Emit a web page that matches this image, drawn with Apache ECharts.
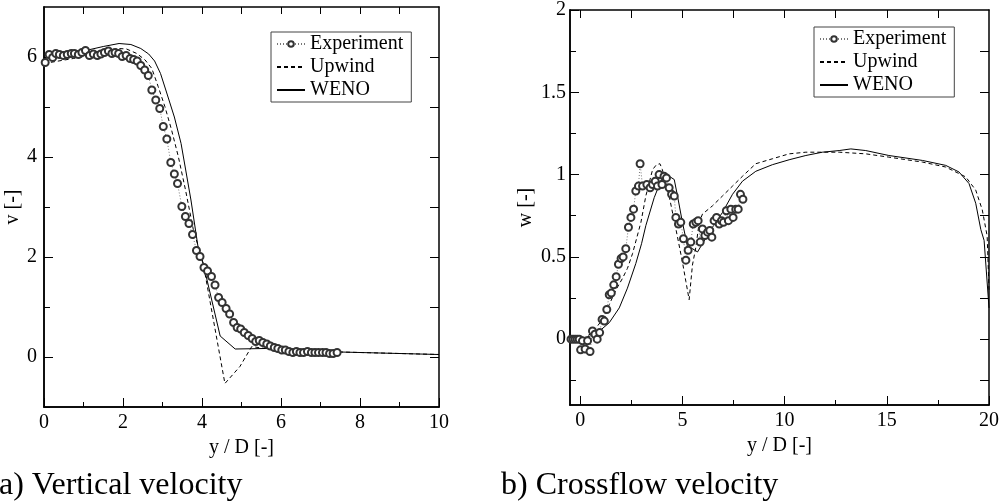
<!DOCTYPE html>
<html>
<head>
<meta charset="utf-8">
<script src="https://cdn.jsdelivr.net/npm/echarts@6/dist/echarts.min.js"></script>
<style>
html,body{margin:0;padding:0;background:#fff;}
#c{width:1002px;height:503px;}
</style>
</head>
<body>
<div id="c"></div>
<script>
// ---------- Data: (a) vertical velocity ----------
const vExperiment = [
[0.03,5.89],[0.13,6.05],[0.22,5.99],[0.30,6.07],[0.39,6.05],[0.49,6.03],[0.59,6.05],[0.69,6.07],[0.77,6.07],[0.87,6.05],
[0.96,6.09],[1.05,6.13],[1.15,6.03],[1.25,6.06],[1.35,6.03],[1.44,6.06],[1.53,6.09],[1.63,6.12],[1.72,6.07],[1.80,6.09],
[1.89,6.07],[1.98,6.01],[2.08,6.03],[2.18,5.97],[2.27,5.95],[2.36,5.92],[2.45,5.83],[2.55,5.74],[2.64,5.63],[2.73,5.34],
[2.83,5.14],[2.93,4.97],[3.02,4.61],[3.11,4.36],[3.21,3.89],[3.30,3.66],[3.38,3.47],[3.49,3.01],[3.58,2.81],[3.67,2.67],
[3.76,2.45],[3.86,2.13],[3.95,2.01],[4.05,1.79],[4.14,1.72],[4.24,1.61],[4.33,1.44],[4.42,1.19],[4.51,1.09],[4.61,0.97],
[4.70,0.86],[4.80,0.69],[4.89,0.59],[4.98,0.56],[5.07,0.49],[5.17,0.43],[5.27,0.37],[5.36,0.31],[5.45,0.33],[5.54,0.29],
[5.64,0.26],[5.73,0.22],[5.83,0.19],[5.92,0.17],[6.02,0.14],[6.11,0.14],[6.20,0.11],[6.30,0.09],[6.39,0.11],[6.48,0.09],
[6.57,0.09],[6.67,0.11],[6.77,0.09],[6.86,0.09],[6.95,0.09],[7.05,0.09],[7.14,0.09],[7.23,0.07],[7.32,0.07],[7.42,0.09]
];
const vUpwind = [
[0,5.87],[0.74,5.97],[1.25,6.04],[1.59,6.11],[1.88,6.17],[2.09,6.16],[2.35,6.07],[2.56,5.94],[2.73,5.77],[2.89,5.41],
[3.06,5.01],[3.23,4.54],[3.40,4.01],[3.58,3.35],[3.78,2.55],[4.03,1.87],[4.58,-0.53],[4.96,-0.19],[5.26,0.21],[5.5,0.18],
[6.5,0.13],[7.5,0.10],[10,0.05]
];
const vWeno = [
[0,5.97],[0.5,6.04],[1.0,6.12],[1.5,6.21],[1.9,6.27],[2.2,6.25],[2.45,6.17],[2.65,6.06],[2.8,5.92],[2.95,5.67],
[3.1,5.3],[3.3,4.8],[3.47,4.27],[3.72,3.14],[3.9,2.2],[4.03,1.87],[4.46,0.42],[4.84,0.16],[5.6,0.17],[6.5,0.13],
[7.5,0.10],[10,0.05]
];

// ---------- Data: (b) crossflow velocity ----------
const wExperiment = [
[-0.45,0],[-0.35,0],[-0.25,0],[-0.15,0],[-0.05,0],
[0.02,-0.065],[0.11,-0.01],[0.24,-0.06],[0.36,-0.01],[0.48,-0.075],[0.60,0.05],[0.72,0.03],[0.83,0.0],[0.95,0.04],[1.07,0.12],
[1.18,0.11],[1.30,0.18],[1.42,0.27],[1.52,0.28],[1.64,0.33],[1.76,0.38],[1.87,0.455],[2.00,0.49],[2.10,0.50],[2.23,0.55],
[2.36,0.68],[2.48,0.74],[2.61,0.79],[2.72,0.90],[2.85,0.93],[2.93,1.066],[3.05,0.93],[3.26,0.94],[3.42,0.92],[3.54,0.94],
[3.67,0.96],[3.78,0.93],[3.86,1.0],[4.00,0.94],[4.10,0.99],[4.22,0.98],[4.35,0.92],[4.47,0.88],[4.60,0.87],[4.68,0.74],
[4.81,0.70],[4.92,0.71],[5.05,0.61],[5.17,0.48],[5.28,0.54],[5.41,0.59],[5.53,0.70],[5.66,0.71],[5.77,0.72],[5.87,0.59],
[5.98,0.67],[6.10,0.63],[6.23,0.65],[6.34,0.66],[6.44,0.62],[6.55,0.72],[6.67,0.74],[6.80,0.70],[6.91,0.72],[7.01,0.71],
[7.15,0.78],[7.25,0.72],[7.37,0.79],[7.48,0.74],[7.61,0.79],[7.73,0.79],[7.84,0.88],[7.96,0.85]
];
const wUpwind = [
[0.1,0],[0.6,0.04],[1.09,0.12],[1.42,0.21],[1.75,0.30],[2.07,0.37],[2.31,0.43],[2.56,0.52],[2.97,0.71],[3.21,0.87],
[3.54,1.03],[3.73,1.06],[3.9,1.066],[4.02,1.03],[4.35,0.87],[4.68,0.67],[5.0,0.47],[5.17,0.35],[5.33,0.24],[5.49,0.45],
[5.66,0.56],[5.82,0.71],[5.98,0.76],[6.47,0.81],[6.96,0.87],[7.45,0.93],[7.94,0.99],[8.59,1.066],[9.4,1.096],[10.22,1.126],
[11.04,1.136],[12.67,1.136],[13.97,1.126],[15.1,1.106],[16.74,1.076],[17.88,1.046],[18.86,0.986],[19.35,0.906],[19.67,0.786],
[19.91,0.627],[20,0.30]
];
const wWeno = [
[0,0],[0.5,0.02],[0.93,0.048],[1.42,0.10],[1.91,0.19],[2.31,0.31],[2.72,0.46],[3.0,0.58],[3.21,0.69],[3.62,0.86],
[3.94,0.96],[4.19,1.0],[4.35,0.99],[4.6,0.97],[4.76,0.87],[5.0,0.71],[5.17,0.61],[5.25,0.56],[5.49,0.55],[5.74,0.53],
[5.98,0.58],[6.47,0.68],[6.96,0.77],[7.45,0.88],[7.94,0.96],[8.59,1.02],[9.4,1.06],[10.22,1.09],[11.04,1.116],[11.85,1.136],
[12.67,1.146],[13.24,1.156],[13.97,1.146],[15.1,1.116],[16.74,1.086],[17.88,1.056],[18.53,1.016],[19.02,0.946],[19.35,0.826],
[19.6,0.666],[19.76,0.6],[20,0.19]
];

// ---------- Tick values ----------
const aXLabels = [0,2,4,6,8,10];
const aXMinor = [1,3,5,7,9];
const aXTop = [1,2,3,4,5,6,7,8,9];
const aYLabels = [0,2,4,6];
const aYMinor = [-1,1,3,5];
const aYRight = [0,1,2,3,4,5,6];
const bXLabels = [0,5,10,15,20];
const bXMinor = [2.5,7.5,12.5,17.5];
const bXTop = [0,2.5,5,7.5,10,12.5,15,17.5];
const bYLabels = [0,0.5,1,1.5,2];
const bYMinor = [-0.25,0.25,0.75,1.25,1.75];
const bYRight = [-0.25,0,0.25,0.5,0.75,1,1.25,1.5,1.75];

const seriesNames = ['Experiment','Upwind','WENO'];
const captions = ['a) Vertical velocity','b) Crossflow velocity'];
const axisNames = {ax:'y / D [-]', ay:'v [-]', bx:'y / D [-]', by:'w [-]'};

const FONT = 'Liberation Serif';
const lineCol = '#000';

function mainAxis(o){
  return Object.assign({
    type:'value', splitLine:{show:false},
    axisLine:{show:true,onZero:false,lineStyle:{color:lineCol,width:1.5}},
    axisTick:{show:true,inside:true,length:9,lineStyle:{color:lineCol,width:1}},
    axisLabel:{show:true,color:'#000',fontFamily:FONT,fontSize:20},
    nameTextStyle:{color:'#000',fontFamily:FONT,fontSize:20},
    nameLocation:'middle'
  }, o);
}
function tickAxis(o, len, vals){
  return Object.assign({
    type:'value', splitLine:{show:false},
    axisLine:{show:true,onZero:false,lineStyle:{color:lineCol,width:1.5}},
    axisTick:{show:true,inside:true,length:len,customValues:vals,lineStyle:{color:lineCol,width:1}},
    axisLabel:{show:false}
  }, o);
}

const xAxis = [
  mainAxis({gridIndex:0,position:'bottom',min:0,max:10,name:axisNames.ax,nameGap:20,
    axisTick:{show:true,inside:true,length:9,customValues:aXLabels,lineStyle:{color:lineCol,width:1}},
    axisLabel:{show:true,customValues:aXLabels,margin:6,color:'#000',fontFamily:FONT,fontSize:20}}),
  tickAxis({gridIndex:0,position:'bottom',min:0,max:10},5,aXMinor),
  tickAxis({gridIndex:0,position:'top',min:0,max:10},7,aXTop),
  mainAxis({gridIndex:1,position:'bottom',min:-0.5,max:20,name:axisNames.bx,nameGap:21,
    axisTick:{show:true,inside:true,length:9,customValues:bXLabels,lineStyle:{color:lineCol,width:1}},
    axisLabel:{show:true,customValues:bXLabels,margin:6,color:'#000',fontFamily:FONT,fontSize:20}}),
  tickAxis({gridIndex:1,position:'bottom',min:-0.5,max:20},5,bXMinor),
  tickAxis({gridIndex:1,position:'top',min:-0.5,max:20},8,bXTop)
];
const yAxis = [
  mainAxis({gridIndex:0,position:'left',min:-1,max:7,name:axisNames.ay,nameGap:16,
    axisTick:{show:true,inside:true,length:9,customValues:aYLabels,lineStyle:{color:lineCol,width:1}},
    axisLabel:{show:true,customValues:aYLabels,margin:7,color:'#000',fontFamily:FONT,fontSize:20}}),
  tickAxis({gridIndex:0,position:'left',min:-1,max:7},6,aYMinor),
  tickAxis({gridIndex:0,position:'right',min:-1,max:7},9,aYRight),
  mainAxis({gridIndex:1,position:'left',min:-0.4,max:2,name:axisNames.by,nameGap:34,
    axisTick:{show:true,inside:true,length:9,customValues:bYLabels,lineStyle:{color:lineCol,width:1}},
    axisLabel:{show:true,customValues:bYLabels,margin:4,color:'#000',fontFamily:FONT,fontSize:20}}),
  tickAxis({gridIndex:1,position:'left',min:-0.4,max:2},6,bYMinor),
  tickAxis({gridIndex:1,position:'right',min:-0.4,max:2},9,bYRight)
];

function expSeries(data, xi, yi){
  return {name:seriesNames[0],type:'line',data:data,xAxisIndex:xi,yAxisIndex:yi,
    symbol:'emptyCircle',symbolSize:7,showAllSymbol:true,
    itemStyle:{color:'#333',borderColor:'#333',borderWidth:1},
    lineStyle:{color:'#777',width:1,type:[1,2]},animation:false,z:3};
}
function upSeries(data, xi, yi){
  return {name:seriesNames[1],type:'line',data:data,xAxisIndex:xi,yAxisIndex:yi,
    symbol:'none',lineStyle:{color:'#000',width:1,type:[4,3]},itemStyle:{color:'#000'},animation:false,z:2};
}
function wenoSeries(data, xi, yi){
  return {name:seriesNames[2],type:'line',data:data,xAxisIndex:xi,yAxisIndex:yi,
    symbol:'none',lineStyle:{color:'#000',width:1},itemStyle:{color:'#000'},animation:false,z:2};
}

function legendAt(left, top){
  return {orient:'vertical',left:left,top:top,itemWidth:28,itemHeight:7,itemGap:3,
    padding:[2,8,2,5],borderColor:'#444',borderWidth:1,backgroundColor:'#fff',
    data:[
      {name:seriesNames[0], itemStyle:{borderWidth:1}},
      {name:seriesNames[1], itemStyle:{opacity:0}},
      {name:seriesNames[2], itemStyle:{opacity:0}}
    ],
    selectedMode:false,
    textStyle:{fontFamily:FONT,fontSize:20,color:'#000',lineHeight:20}};
}

const option = {
  animation:false,
  backgroundColor:'#fff',
  title:[
    {text:captions[0],left:-1,top:470,padding:0,textStyle:{fontFamily:FONT,fontSize:32,fontWeight:'normal',color:'#000'}},
    {text:captions[1],left:501,top:470,padding:0,textStyle:{fontFamily:FONT,fontSize:32,fontWeight:'normal',color:'#000'}}
  ],
  legend:[legendAt(271,32), legendAt(814,27)],
  grid:[
    {left:44,top:7,width:395,height:400},
    {left:570,top:4,width:420,height:401}
  ],
  xAxis:xAxis,
  yAxis:yAxis,
  series:[
    expSeries(vExperiment,0,0), upSeries(vUpwind,0,0), wenoSeries(vWeno,0,0),
    expSeries(wExperiment,3,3), upSeries(wUpwind,3,3), wenoSeries(wWeno,3,3)
  ]
};
const chart = echarts.init(document.getElementById('c'), null, {renderer:'canvas'});
chart.setOption(option);
</script>
</body>
</html>
